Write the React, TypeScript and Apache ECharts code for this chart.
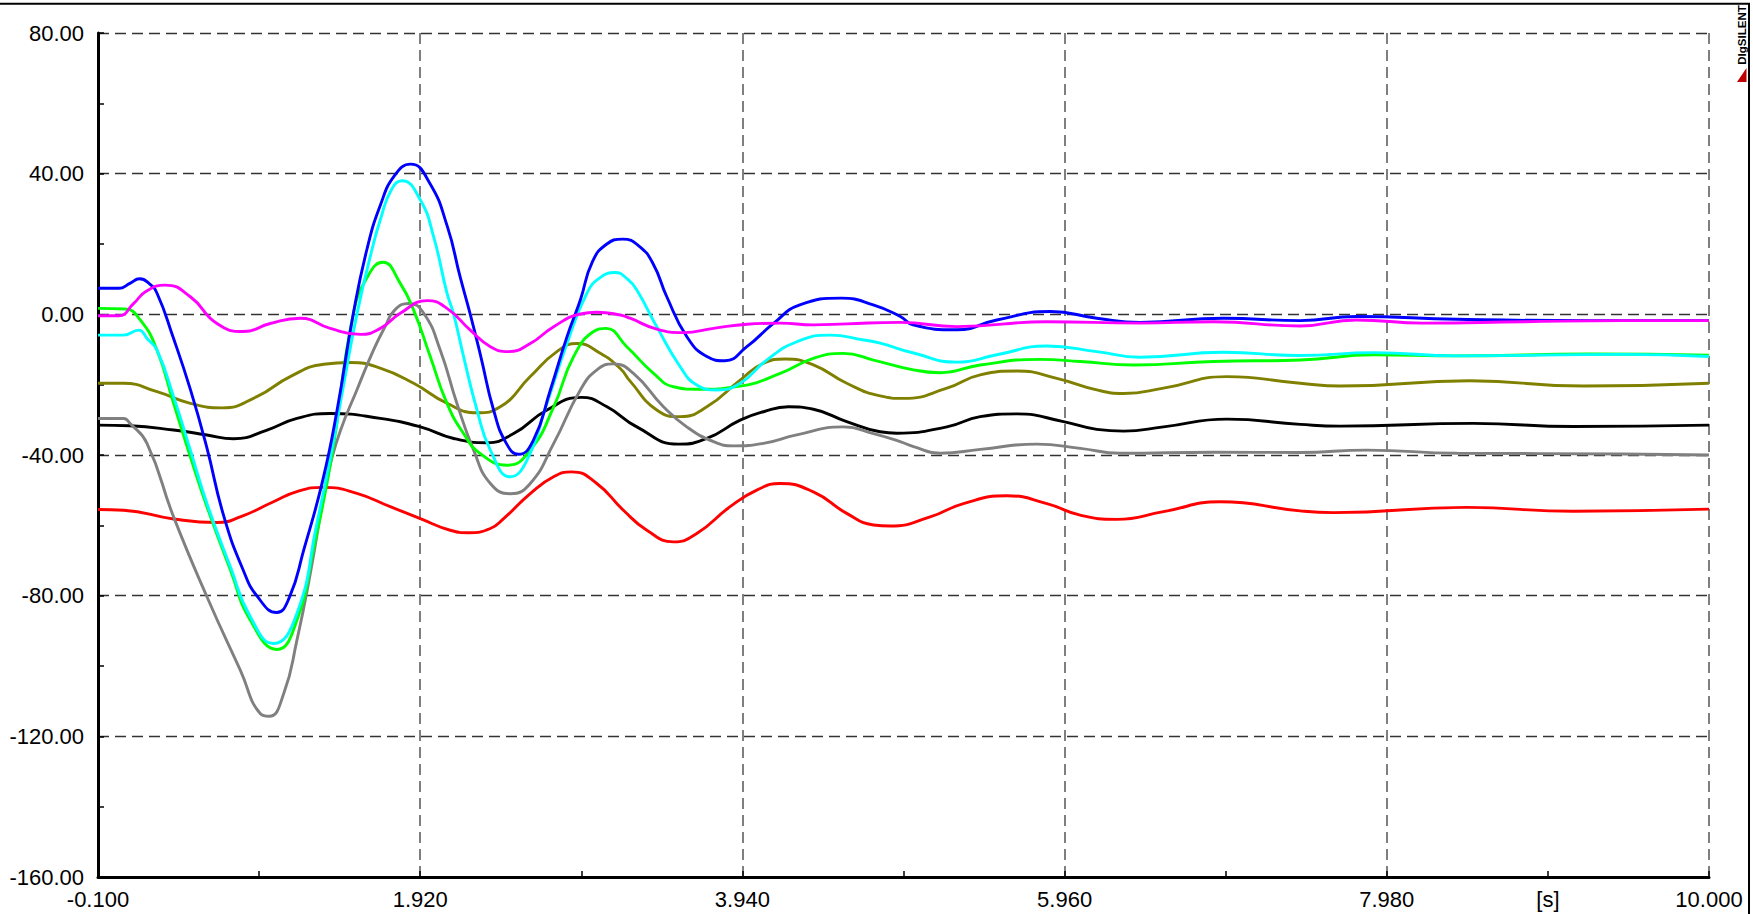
import React, { useEffect, useRef } from "react";
import * as echarts from "echarts";

// Axis settings
const X_MIN = -0.1;
const X_MAX = 10;
const X_STEP = 2.02;
const X_HALF_STEP = 1.01;
const X_UNIT_POS = 8.99;
const X_UNIT_LABEL = "[s]";
const Y_MIN = -160;
const Y_MAX = 80;
const Y_STEP = 40;

// Series data: [time s, value]
const blue: number[][] = [
  [-0.1, 7.4], [0.03, 7.4], [0.1, 8.8], [0.16, 10.1], [0.22, 8.8], [0.27, 6], [0.37, -6.4], [0.48, -21.5],
  [0.58, -37.5], [0.69, -57.6], [0.81, -72.7], [0.9, -80.3], [1.02, -84.8], [1.1, -80.5], [1.19, -67],
  [1.31, -47], [1.4, -27], [1.5, 0], [1.585, 18.3], [1.67, 31], [1.76, 39.5], [1.86, 42.7], [1.98, 37.3],
  [2.09, 25], [2.17, 10.7], [2.234, 0], [2.3, -12], [2.38, -27.2], [2.46, -36.7], [2.537, -39.8],
  [2.63, -35.8], [2.736, -21.5], [2.84, -6.4], [2.924, 4.1], [3.0, 15], [3.09, 20], [3.19, 21.4],
  [3.29, 19.5], [3.38, 14.4], [3.466, 5], [3.591, -6.3], [3.717, -12], [3.83, -13.2], [3.968, -9.2],
  [4.135, -2.6], [4.3, 2.7], [4.56, 4.6], [4.76, 2.7], [4.93, -0.6], [5.01, -3], [5.285, -4.4],
  [5.535, -1.6], [5.87, 0.8], [6.162, -1.1], [6.434, -2.3], [6.956, -1.1], [7.437, -1.8], [7.79, -0.6],
  [8.42, -1.4], [9.255, -1.8], [10, -1.8],
];
const cyan: number[][] = [
  [-0.1, -5.9], [0.06, -5.9], [0.155, -4.5], [0.21, -7], [0.27, -10.2], [0.374, -23.4], [0.479, -38.6],
  [0.583, -53.8], [0.73, -71.8], [0.855, -86], [1.0, -93.6], [1.147, -85.1], [1.272, -59.5], [1.36, -40],
  [1.44, -20], [1.523, 0], [1.617, 18.3], [1.67, 26.9], [1.74, 35.5], [1.806, 38], [1.921, 32.5],
  [2.004, 22.1], [2.088, 6], [2.13, 0], [2.192, -12], [2.276, -27.2], [2.36, -38.6], [2.485, -46.2],
  [2.589, -41.5], [2.715, -25.3], [2.84, -8.3], [2.965, 6], [3.05, 10.5], [3.142, 11.9], [3.22, 10],
  [3.278, 6.9], [3.403, -3.5], [3.55, -14.9], [3.654, -20.1], [3.78, -21.5], [3.926, -19.6], [4.093, -13],
  [4.281, -7.8], [4.49, -5.9], [4.7, -7.3], [4.804, -8.2], [5.013, -11], [5.285, -13.6], [5.535, -11.5],
  [5.849, -9], [6.162, -10.6], [6.434, -12.2], [6.956, -10.8], [7.437, -11.7], [7.9, -10.9], [8.42, -11.8],
  [9.46, -11.4], [10, -12],
];
const green: number[][] = [
  [-0.1, 1.7], [0.07, 1.5], [0.165, -1.6], [0.27, -10.2], [0.374, -25.3], [0.479, -40.5], [0.583, -54.7],
  [0.73, -72.7], [0.855, -87], [1.022, -95.3], [1.147, -87], [1.25, -67], [1.367, -40], [1.5, 0],
  [1.6, 11.5], [1.686, 14.8], [1.795, 8.8], [1.879, 1.2], [1.983, -12], [2.088, -25.3], [2.192, -33.9],
  [2.297, -39.6], [2.464, -42.9], [2.61, -38.6], [2.757, -26.3], [2.882, -12], [3.007, -4.9], [3.084, -4],
  [3.215, -9.2], [3.383, -16.8], [3.508, -20.6], [3.654, -21.3], [3.926, -20.4], [4.177, -16.8],
  [4.385, -12.5], [4.573, -11.1], [4.762, -13], [5.013, -15.8], [5.18, -16.6], [5.431, -14.4],
  [5.807, -12.8], [6.058, -13.4], [6.392, -14.4], [6.893, -13.4], [7.437, -13], [7.9, -11.5],
  [8.42, -11.8], [9.255, -11.3], [10, -11.6],
];
const olive: number[][] = [
  [-0.1, -19.6], [0.06, -19.6], [0.27, -22], [0.479, -25.3], [0.677, -26.6], [0.896, -23.4], [1.105, -17.7],
  [1.314, -14.2], [1.482, -13.7], [1.669, -15.3], [1.879, -19.6], [2.088, -25.3], [2.276, -28],
  [2.422, -26.3], [2.61, -17.7], [2.777, -10.6], [2.903, -8.3], [3.049, -11.1], [3.174, -15.4],
  [3.236, -19], [3.403, -27.2], [3.55, -29.1], [3.717, -26.3], [3.926, -18.7], [4.072, -13.9],
  [4.208, -12.7], [4.385, -14.4], [4.594, -19.6], [4.803, -23.2], [4.95, -23.9], [5.222, -21],
  [5.431, -17.2], [5.661, -16.1], [5.911, -18.2], [6.162, -21.5], [6.33, -22.5], [6.58, -21],
  [6.977, -17.7], [7.437, -19.6], [7.687, -20.4], [8.5, -18.9], [9.213, -20.4], [10, -19.6],
];
const black: number[][] = [
  [-0.1, -31.5], [0.1, -31.7], [0.374, -32.9], [0.583, -34.3], [0.75, -35.4], [0.96, -32.9], [1.147, -29.6],
  [1.356, -28.2], [1.67, -29.6], [1.921, -32], [2.13, -35.3], [2.339, -36.5], [2.506, -33.9], [2.715, -27.2],
  [2.93, -23.6], [3.091, -26.3], [3.278, -32], [3.539, -36.9], [3.717, -35.3], [3.926, -30.1],
  [4.072, -27.7], [4.229, -26.3], [4.385, -27], [4.594, -30.5], [4.803, -33.4], [4.908, -33.8],
  [5.222, -32], [5.431, -29.1], [5.661, -28.3], [5.953, -30.5], [6.162, -32.7], [6.33, -33.2],
  [6.58, -32], [6.977, -29.8], [7.437, -31.3], [7.687, -31.8], [8.523, -31], [9.15, -31.9], [10, -31.5],
];
const gray: number[][] = [
  [-0.1, -29.6], [0.06, -29.6], [0.1, -31], [0.207, -36.7], [0.374, -57.6], [0.583, -80.3], [0.792, -101.2],
  [0.917, -113.5], [0.974, -114.3], [1.064, -107.9], [1.147, -92.7], [1.231, -73.7], [1.314, -51.9],
  [1.36, -42], [1.42, -33], [1.523, -21.5], [1.627, -10.2], [1.7, -3.5], [1.76, 1.2], [1.848, 3.1],
  [1.942, 0.3], [2.046, -10.2], [2.15, -25.3], [2.255, -38.6], [2.36, -48.1], [2.485, -51], [2.61, -48.1],
  [2.757, -36.7], [2.924, -21.5], [3.028, -15.8], [3.132, -14.1], [3.257, -16.8], [3.445, -26.3],
  [3.591, -32], [3.759, -36.2], [3.884, -37.4], [4.072, -36.7], [4.281, -34.3], [4.573, -32],
  [4.762, -33.9], [4.929, -36.2], [5.013, -37.6], [5.18, -39.5], [5.431, -38.4], [5.786, -36.9],
  [6.058, -38.1], [6.308, -39.5], [6.893, -39.2], [7.437, -39.3], [7.855, -38.6], [8.42, -39.5],
  [9.46, -39.7], [10, -40],
];
const red: number[][] = [
  [-0.1, -55.5], [0.061, -55.7], [0.374, -58.2], [0.646, -59.2], [0.792, -57.6], [1.0, -53.3], [1.147, -50.4],
  [1.314, -49.2], [1.523, -50.9], [1.732, -54.7], [1.921, -58.1], [2.108, -61.4], [2.223, -62.1],
  [2.36, -60.9], [2.443, -58.1], [2.61, -51], [2.756, -46.2], [2.871, -44.8], [3.027, -48.1],
  [3.194, -55.7], [3.341, -61.4], [3.508, -64.7], [3.654, -62.3], [3.863, -54.7], [4.03, -50],
  [4.177, -48.1], [4.385, -50.5], [4.594, -56.6], [4.762, -59.9], [4.867, -60.2], [5.117, -57.6],
  [5.326, -53.8], [5.598, -51.6], [5.849, -53.8], [6.058, -57.1], [6.288, -58.3], [6.58, -56.1],
  [6.935, -53.3], [7.437, -55.9], [7.646, -56.4], [8.48, -54.9], [9.15, -56], [10, -55.4],
];
const magenta: number[][] = [
  [-0.1, -0.4], [0.03, -0.4], [0.124, 3.1], [0.2, 6.5], [0.322, 8.3], [0.479, 5], [0.646, -2.6],
  [0.813, -4.9], [0.98, -2.6], [1.168, -1.1], [1.356, -4], [1.544, -5.7], [1.67, -4], [1.795, 0.3],
  [1.963, 3.9], [2.088, 1.7], [2.234, -4.5], [2.36, -9.2], [2.474, -10.6], [2.61, -8.3], [2.757, -3.5],
  [2.924, 0.1], [3.028, 0.6], [3.174, -0.2], [3.236, -1.1], [3.403, -4.2], [3.57, -5.2], [3.759, -4],
  [3.968, -2.8], [4.177, -2.5], [4.385, -3], [4.594, -2.7], [4.929, -2.3], [5.285, -3.5], [5.849, -2.1],
  [6.434, -2.5], [6.893, -2.1], [7.437, -3.3], [7.79, -1.6], [8.21, -2.5], [8.84, -2.1], [9.46, -1.8],
  [10, -1.8],
];

const SERIES = [
  { name: "red", data: red, color: "#ff0000" },
  { name: "black", data: black, color: "#000000" },
  { name: "olive", data: olive, color: "#808000" },
  { name: "gray", data: gray, color: "#808080" },
  { name: "green", data: green, color: "#00ff00" },
  { name: "cyan", data: cyan, color: "#00ffff" },
  { name: "blue", data: blue, color: "#0000ff" },
  { name: "magenta", data: magenta, color: "#ff00ff" },
];

export default function App() {
  const ref = useRef<HTMLDivElement>(null);
  useEffect(() => {
    const chart = echarts.init(ref.current!, null, { renderer: "svg" });
    const font = "'Liberation Sans', Arial, sans-serif";
    chart.setOption({
      animation: false,
      backgroundColor: "#ffffff",
      grid: { left: 98, right: 44, top: 33, bottom: 37, containLabel: false, outerBoundsMode: "none" },
      xAxis: [
        {
          type: "value",
          min: X_MIN,
          max: X_MAX,
          interval: X_STEP,
          axisLine: { show: true, onZero: false, lineStyle: { color: "#000", width: 3 } },
          axisTick: { show: true, inside: true, length: 6, lineStyle: { color: "#000", width: 1.5 } },
          minorTick: { show: true, splitNumber: 2, length: 6, lineStyle: { color: "#000", width: 1.5 } },
          axisLabel: {
            margin: 11,
            fontSize: 22,
            fontFamily: font,
            color: "#000",
            formatter: (v: number) => v.toFixed(3),
          },
          splitLine: { show: true, lineStyle: { color: "#555", width: 1.5, type: [11, 6] } },
        },
        {
          type: "value",
          position: "bottom",
          min: X_MIN,
          max: X_MAX,
          interval: X_HALF_STEP,
          axisLine: { show: false },
          axisTick: { show: false },
          splitLine: { show: false },
          axisLabel: {
            margin: 11,
            fontSize: 22,
            fontFamily: font,
            color: "#000",
            showMinLabel: false,
            showMaxLabel: false,
            formatter: (v: number) => (Math.abs(v - X_UNIT_POS) < 0.01 ? X_UNIT_LABEL : ""),
          },
        },
      ],
      yAxis: {
        type: "value",
        min: Y_MIN,
        max: Y_MAX,
        interval: Y_STEP,
        axisLine: { show: true, onZero: false, lineStyle: { color: "#000", width: 3 } },
        axisTick: { show: true, inside: true, length: 6, lineStyle: { color: "#000", width: 1.5 } },
        minorTick: { show: true, splitNumber: 2, length: 6, lineStyle: { color: "#000", width: 1.5 } },
        axisLabel: {
          margin: 14,
          fontSize: 22,
          fontFamily: font,
          color: "#000",
          formatter: (v: number) => v.toFixed(2),
        },
        splitLine: { show: true, lineStyle: { color: "#333", width: 1.3, type: [11, 6] } },
      },
      series: SERIES.map((s, i) => ({
        name: s.name,
        type: "line",
        xAxisIndex: 0,
        data: s.data,
        smooth: 0.5,
        symbol: "none",
        lineStyle: { color: s.color, width: 2.9 },
        itemStyle: { color: s.color },
        z: 2 + i,
        silent: true,
      })),
      graphic: [
        {
          type: "rect",
          shape: { x: -5, y: 3.7, width: 1754, height: 1000 },
          style: { fill: "none", stroke: "#000", lineWidth: 2 },
          silent: true,
          z: 100,
        },
        {
          type: "text",
          x: 1742,
          y: 35,
          rotation: Math.PI / 2,
          style: {
            text: "DIgSILENT",
            fontSize: 11.5,
            fontWeight: "bold",
            fontFamily: font,
            fill: "#000",
            align: "center",
            verticalAlign: "middle",
          },
          z: 100,
        },
        {
          type: "polygon",
          shape: { points: [[1746.5, 68], [1746.5, 82], [1737, 82]] },
          style: { fill: "#c00000" },
          z: 100,
        },
      ],
    });
    return () => chart.dispose();
  }, []);
  return (
    <div
      ref={ref}
      style={{ position: "absolute", left: 0, top: 0, width: 1753, height: 914, background: "#fff" }}
    />
  );
}
